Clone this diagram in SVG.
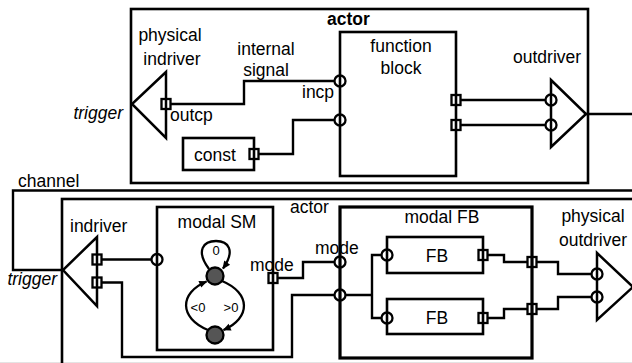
<svg xmlns="http://www.w3.org/2000/svg" width="632" height="363" viewBox="0 0 632 363">
<style>
text { font-family: "Liberation Sans", Arial, Helvetica, sans-serif; font-size: 17.5px; fill: #000; }
.c { text-anchor: middle; }
.e { text-anchor: end; }
.it { font-style: italic; }
.sm { font-size: 13px; }
.box { fill: none; stroke: #000; stroke-width: 2.6; }
.thick { stroke-width: 3.2; }
.wire { fill: none; stroke: #000; stroke-width: 2.4; }
.port { fill: none; stroke: #000; stroke-width: 2.3; }
.drv { fill: none; stroke: #000; stroke-width: 2.5; stroke-linejoin: miter; }
.state { fill: #555; stroke: #000; stroke-width: 2.3; }
.arc { fill: none; stroke: #000; stroke-width: 2.3; marker-end: url(#arr); }
</style>
<defs>
<marker id="arr" viewBox="0 0 10 10" refX="9" refY="5" markerWidth="9" markerHeight="8" markerUnits="userSpaceOnUse" orient="auto">
<path d="M0,0.5 L10,5 L0,9.5 z" fill="#000"/>
</marker>
</defs>
<rect x="0" y="0" width="632" height="363" fill="#fff"/>
<rect x="0" y="362" width="632" height="1" fill="#e4e4e4"/>

<g id="actor-top">
<rect class="box" x="131" y="9" width="457" height="174"/>
<text x="327" y="25" font-weight="bold" font-size="16.5">actor</text>
</g>

<g id="physical-indriver">
<polygon class="drv" points="166,72 166,138 132,104"/>
<rect class="port" x="161.5" y="99" width="9" height="10"/>
<text class="c" x="170" y="41">physical</text>
<text class="c" x="172" y="65">indriver</text>
<text class="e it" x="123" y="119">trigger</text>
<text x="170" y="121">outcp</text>
</g>

<g id="function-block">
<rect class="box" x="340" y="32" width="116" height="144"/>
<text class="c" x="401" y="52">function</text>
<text class="c" x="401" y="74">block</text>
<circle class="port" cx="340" cy="81" r="5.5"/>
<circle class="port" cx="340" cy="120" r="5.5"/>
<rect class="port" x="451.5" y="95" width="9" height="10"/>
<rect class="port" x="451.5" y="120" width="9" height="10"/>
<text x="302" y="98">incp</text>
</g>

<g id="const">
<rect class="box" x="183" y="138" width="71" height="32"/>
<text class="c" x="215" y="161">const</text>
<rect class="port" x="249.5" y="149" width="9" height="10"/>
</g>

<g id="outdriver">
<polygon class="drv" points="551,80 586,114 551,147"/>
<circle class="port" cx="551" cy="100" r="5.5"/>
<circle class="port" cx="551" cy="125" r="5.5"/>
<text x="513" y="63">outdriver</text>
</g>

<g id="actor-bottom">
<rect class="box" x="62" y="199" width="620" height="220"/>
<text x="290" y="213">actor</text>
</g>

<g id="indriver">
<polygon class="drv" points="97,237 97,306 63,270"/>
<rect class="port" x="92.5" y="254.5" width="9" height="10"/>
<rect class="port" x="92.5" y="277.5" width="9" height="10"/>
<text x="70" y="232">indriver</text>
<text class="e it" x="57" y="285">trigger</text>
</g>

<g id="modal-sm">
<rect class="box" x="157" y="207" width="116" height="143"/>
<text class="c" x="217" y="228">modal SM</text>
<circle class="port" cx="157" cy="259.5" r="5.5"/>
<rect class="port" x="268.5" y="273" width="9" height="10"/>
<text x="250" y="271">mode</text>
<path class="arc" d="M209 269 C 195 250, 204 241, 216 241 C 228 241, 236 250, 223 268.5"/>
<path class="arc" d="M208 330 C 179 318, 179 293, 206.5 281.5"/>
<path class="arc" d="M222 281 C 251 293, 251 318, 223.5 330"/>
<circle class="state" cx="215" cy="276" r="8.5"/>
<circle class="state" cx="215" cy="335" r="8.5"/>
<text class="c sm" x="216" y="255">0</text>
<text class="c sm" x="198" y="312">&lt;0</text>
<text class="c sm" x="231" y="312">&gt;0</text>
</g>

<g id="modal-fb">
<rect class="box thick" x="340" y="207" width="192" height="151"/>
<text class="c" x="442" y="223">modal FB</text>
<circle class="port" cx="340" cy="262" r="5.5"/>
<circle class="port" cx="340" cy="295" r="5.5"/>
<text x="315" y="254">mode</text>
<rect class="port" x="527.5" y="257" width="9" height="10"/>
<rect class="port" x="527.5" y="304" width="9" height="10"/>
</g>

<g id="fb-1">
<rect class="box" x="387" y="237" width="96" height="36"/>
<text class="c" x="437" y="262">FB</text>
<circle class="port" cx="387" cy="255" r="5.5"/>
<rect class="port" x="478.5" y="250" width="9" height="10"/>
</g>

<g id="fb-2">
<rect class="box" x="387" y="299" width="96" height="35"/>
<text class="c" x="437" y="324">FB</text>
<circle class="port" cx="387" cy="318" r="5.5"/>
<rect class="port" x="478.5" y="313" width="9" height="10"/>
</g>

<g id="physical-outdriver">
<polygon class="drv" points="597,253 633,287 597,320"/>
<circle class="port" cx="597" cy="274" r="5.5"/>
<circle class="port" cx="597" cy="297" r="5.5"/>
<text class="c" x="593" y="222">physical</text>
<text class="c" x="593" y="246">outdriver</text>
</g>

<g id="connectors">
<path class="wire" d="M170.5 104 H244 V81 H334.5"/>
<text class="c" x="266" y="55">internal</text>
<text class="c" x="266" y="76">signal</text>
<path class="wire" d="M258.5 154 H293 V120 H334.5"/>
<path class="wire" d="M460.5 100 H545.5"/>
<path class="wire" d="M460.5 125 H545.5"/>
<path class="wire" d="M586 114 H650 V190.5 H13 V270 H63"/>
<text x="18" y="187">channel</text>
<path class="wire" d="M101.5 259.5 H151.5"/>
<path class="wire" d="M101.5 282.5 H122 V357 H292 V295 H334.5"/>
<path class="wire" d="M277.5 278 H303 V262 H334.5"/>
<path class="wire" d="M345.5 295 H372 M381.5 255 H372 V318 H381.5"/>
<path class="wire" d="M487.5 255 H504 V262 H527.5"/>
<path class="wire" d="M487.5 318 H504 V309 H527.5"/>
<path class="wire" d="M536.5 262 H558 V274 H591.5"/>
<path class="wire" d="M536.5 309 H558 V297 H591.5"/>
</g>
</svg>
